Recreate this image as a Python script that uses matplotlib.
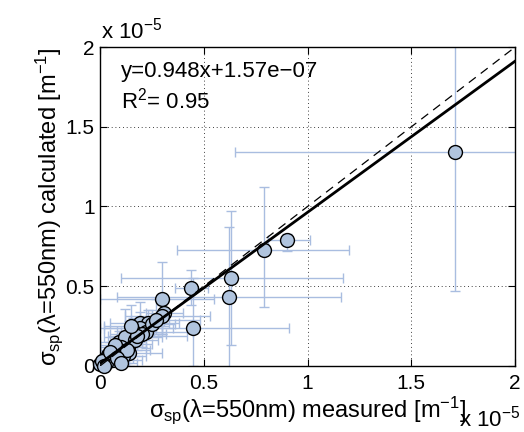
import matplotlib
matplotlib.use("Agg")
import matplotlib.pyplot as plt
import numpy as np

plt.rcParams['font.family'] = ['Liberation Sans', 'DejaVu Sans']
plt.rcParams['mathtext.fontset'] = 'custom'
plt.rcParams['mathtext.rm'] = 'Liberation Sans'
plt.rcParams['mathtext.it'] = 'Liberation Sans'

# values in units of 1e-5 m^-1
measured = [1.71, 0.90, 0.79, 0.63, 0.62, 0.44, 0.30, 0.45,
            0.31, 0.30, 0.19, 0.23, 0.19, 0.16, 0.22, 0.09, 0.14, 0.14,
            0.08, 0.04, 0.02, 0.00, 0.11, 0.06, 0.12, 0.10, 0.17, 0.07,
            0.03, 0.01, 0.20, 0.25, 0.05, 0.13, 0.18, 0.15, 0.27, 0.08,
            0.02, 0.10]
calculated = [1.34, 0.79, 0.73, 0.55, 0.43, 0.49, 0.42, 0.24,
              0.33, 0.31, 0.27, 0.27, 0.24, 0.22, 0.21, 0.15, 0.14, 0.08,
              0.10, 0.07, 0.04, 0.01, 0.06, 0.04, 0.18, 0.12, 0.16, 0.13,
              0.02, 0.03, 0.20, 0.26, 0.09, 0.10, 0.19, 0.25, 0.29, 0.05,
              0.00, 0.02]
meas_lo = [0.65, 0.81, 0.37, 0.10, 0.08, 0.36, 0.00, 0.00,
           0.22, 0.12, 0.05, 0.15, 0.02, 0.08, 0.10, 0.00, 0.06, 0.05,
           0.00, 0.00, 0.00, 0.00, 0.03, 0.00, 0.02, 0.00, 0.08, 0.00,
           0.00, 0.00, 0.05, 0.14, 0.00, 0.05, 0.04, 0.02, 0.15, 0.00,
           0.00, 0.02]
meas_hi = [2.30, 1.01, 1.20, 1.17, 1.16, 0.52, 0.55, 0.91,
           0.40, 0.53, 0.38, 0.33, 0.35, 0.26, 0.45, 0.20, 0.25, 0.30,
           0.15, 0.12, 0.10, 0.05, 0.22, 0.20, 0.30, 0.22, 0.28, 0.18,
           0.08, 0.06, 0.32, 0.36, 0.14, 0.24, 0.42, 0.30, 0.48, 0.16,
           0.06, 0.18]
calc_lo = [0.47, 0.72, 0.37, 0.13, -0.05, 0.38, 0.20, 0.00,
           0.25, 0.20, 0.17, 0.19, 0.15, 0.12, 0.11, 0.08, 0.05, 0.00,
           0.03, 0.02, 0.00, 0.00, 0.00, 0.00, 0.08, 0.05, 0.06, 0.08,
           0.00, 0.00, 0.12, 0.18, 0.03, 0.02, 0.10, 0.12, 0.20, 0.00,
           0.00, 0.00]
calc_hi = [2.30, 0.83, 1.12, 0.97, 0.87, 0.60, 0.65, 0.55,
           0.40, 0.38, 0.40, 0.35, 0.34, 0.30, 0.30, 0.22, 0.28, 0.16,
           0.17, 0.12, 0.08, 0.03, 0.12, 0.10, 0.36, 0.20, 0.25, 0.18,
           0.05, 0.06, 0.30, 0.35, 0.15, 0.18, 0.28, 0.38, 0.42, 0.10,
           0.02, 0.06]

slope = 0.948
intercept = 1.57e-7 / 1e-5
r2 = 0.95
xticks = [0, 0.5, 1, 1.5, 2]
yticks = [0, 0.5, 1, 1.5, 2]
xtick_labels = ['0', '0.5', '1', '1.5', '2']
ytick_labels = ['0', '0.5', '1', '1.5', '2']

x = np.array(measured)
y = np.array(calculated)
xerr = np.vstack([x - np.array(meas_lo), np.array(meas_hi) - x])
yerr = np.vstack([y - np.array(calc_lo), np.array(calc_hi) - y])

FS_TICK = 15
FS_LAB = 17
FS_TXT = 16

fig = plt.figure(figsize=(5.24, 4.32), dpi=100)
ax = fig.add_axes([0.191, 0.153, 0.792, 0.738])

ebcol = '#a9bde0'
ax.errorbar(x, y, xerr=xerr, yerr=yerr, fmt='none', ecolor=ebcol,
            elinewidth=1.0, capsize=3.5, capthick=1.0, zorder=2)
ax.plot(x, y, 'o', ms=10, mfc='#b0c4de', mec='black', mew=1.0, zorder=3,
        clip_on=False)

xl = np.array([0, 2])
ax.plot(xl, xl, color='black', lw=0.9, dashes=(7, 5), zorder=4)
ax.plot(xl, slope * xl + intercept, color='black', lw=2.0, zorder=4)

ax.set_xlim(0, 2)
ax.set_ylim(0, 2)
ax.set_xticks(xticks)
ax.set_xticklabels(xtick_labels)
ax.set_yticks(yticks)
ax.set_yticklabels(ytick_labels)
ax.grid(True, color='black', linestyle=(0, (1, 3.5)), linewidth=0.6)
ax.tick_params(direction='in', length=5, width=0.8, top=True, right=True,
               labelsize=FS_TICK)
ax.tick_params(axis='x', pad=6)
ax.tick_params(axis='y', pad=4)
for s in ax.spines.values():
    s.set_linewidth(1.0)

ax.set_xlabel(r'$\sigma_{\mathrm{sp}}$($\lambda$=550nm) measured [m$^{-1}$]',
              fontsize=FS_LAB, labelpad=1)
ax.set_ylabel(r'$\sigma_{\mathrm{sp}}$($\lambda$=550nm) calculated [m$^{-1}$]',
              fontsize=FS_LAB, labelpad=0)

ax.text(0.10, 1.845, 'y=0.948x+1.57e\u221207', fontsize=FS_TXT, va='center')
ax.text(0.10, 1.665, r'R$^2$= 0.95', fontsize=FS_TXT, va='center')

fig.text(0.192, 0.93, r'x 10$^{-5}$', fontsize=FS_TXT, va='center')
fig.text(0.876, 0.03, r'x 10$^{-5}$', fontsize=FS_TXT, va='center')

fig.savefig('out.png', dpi=100)
